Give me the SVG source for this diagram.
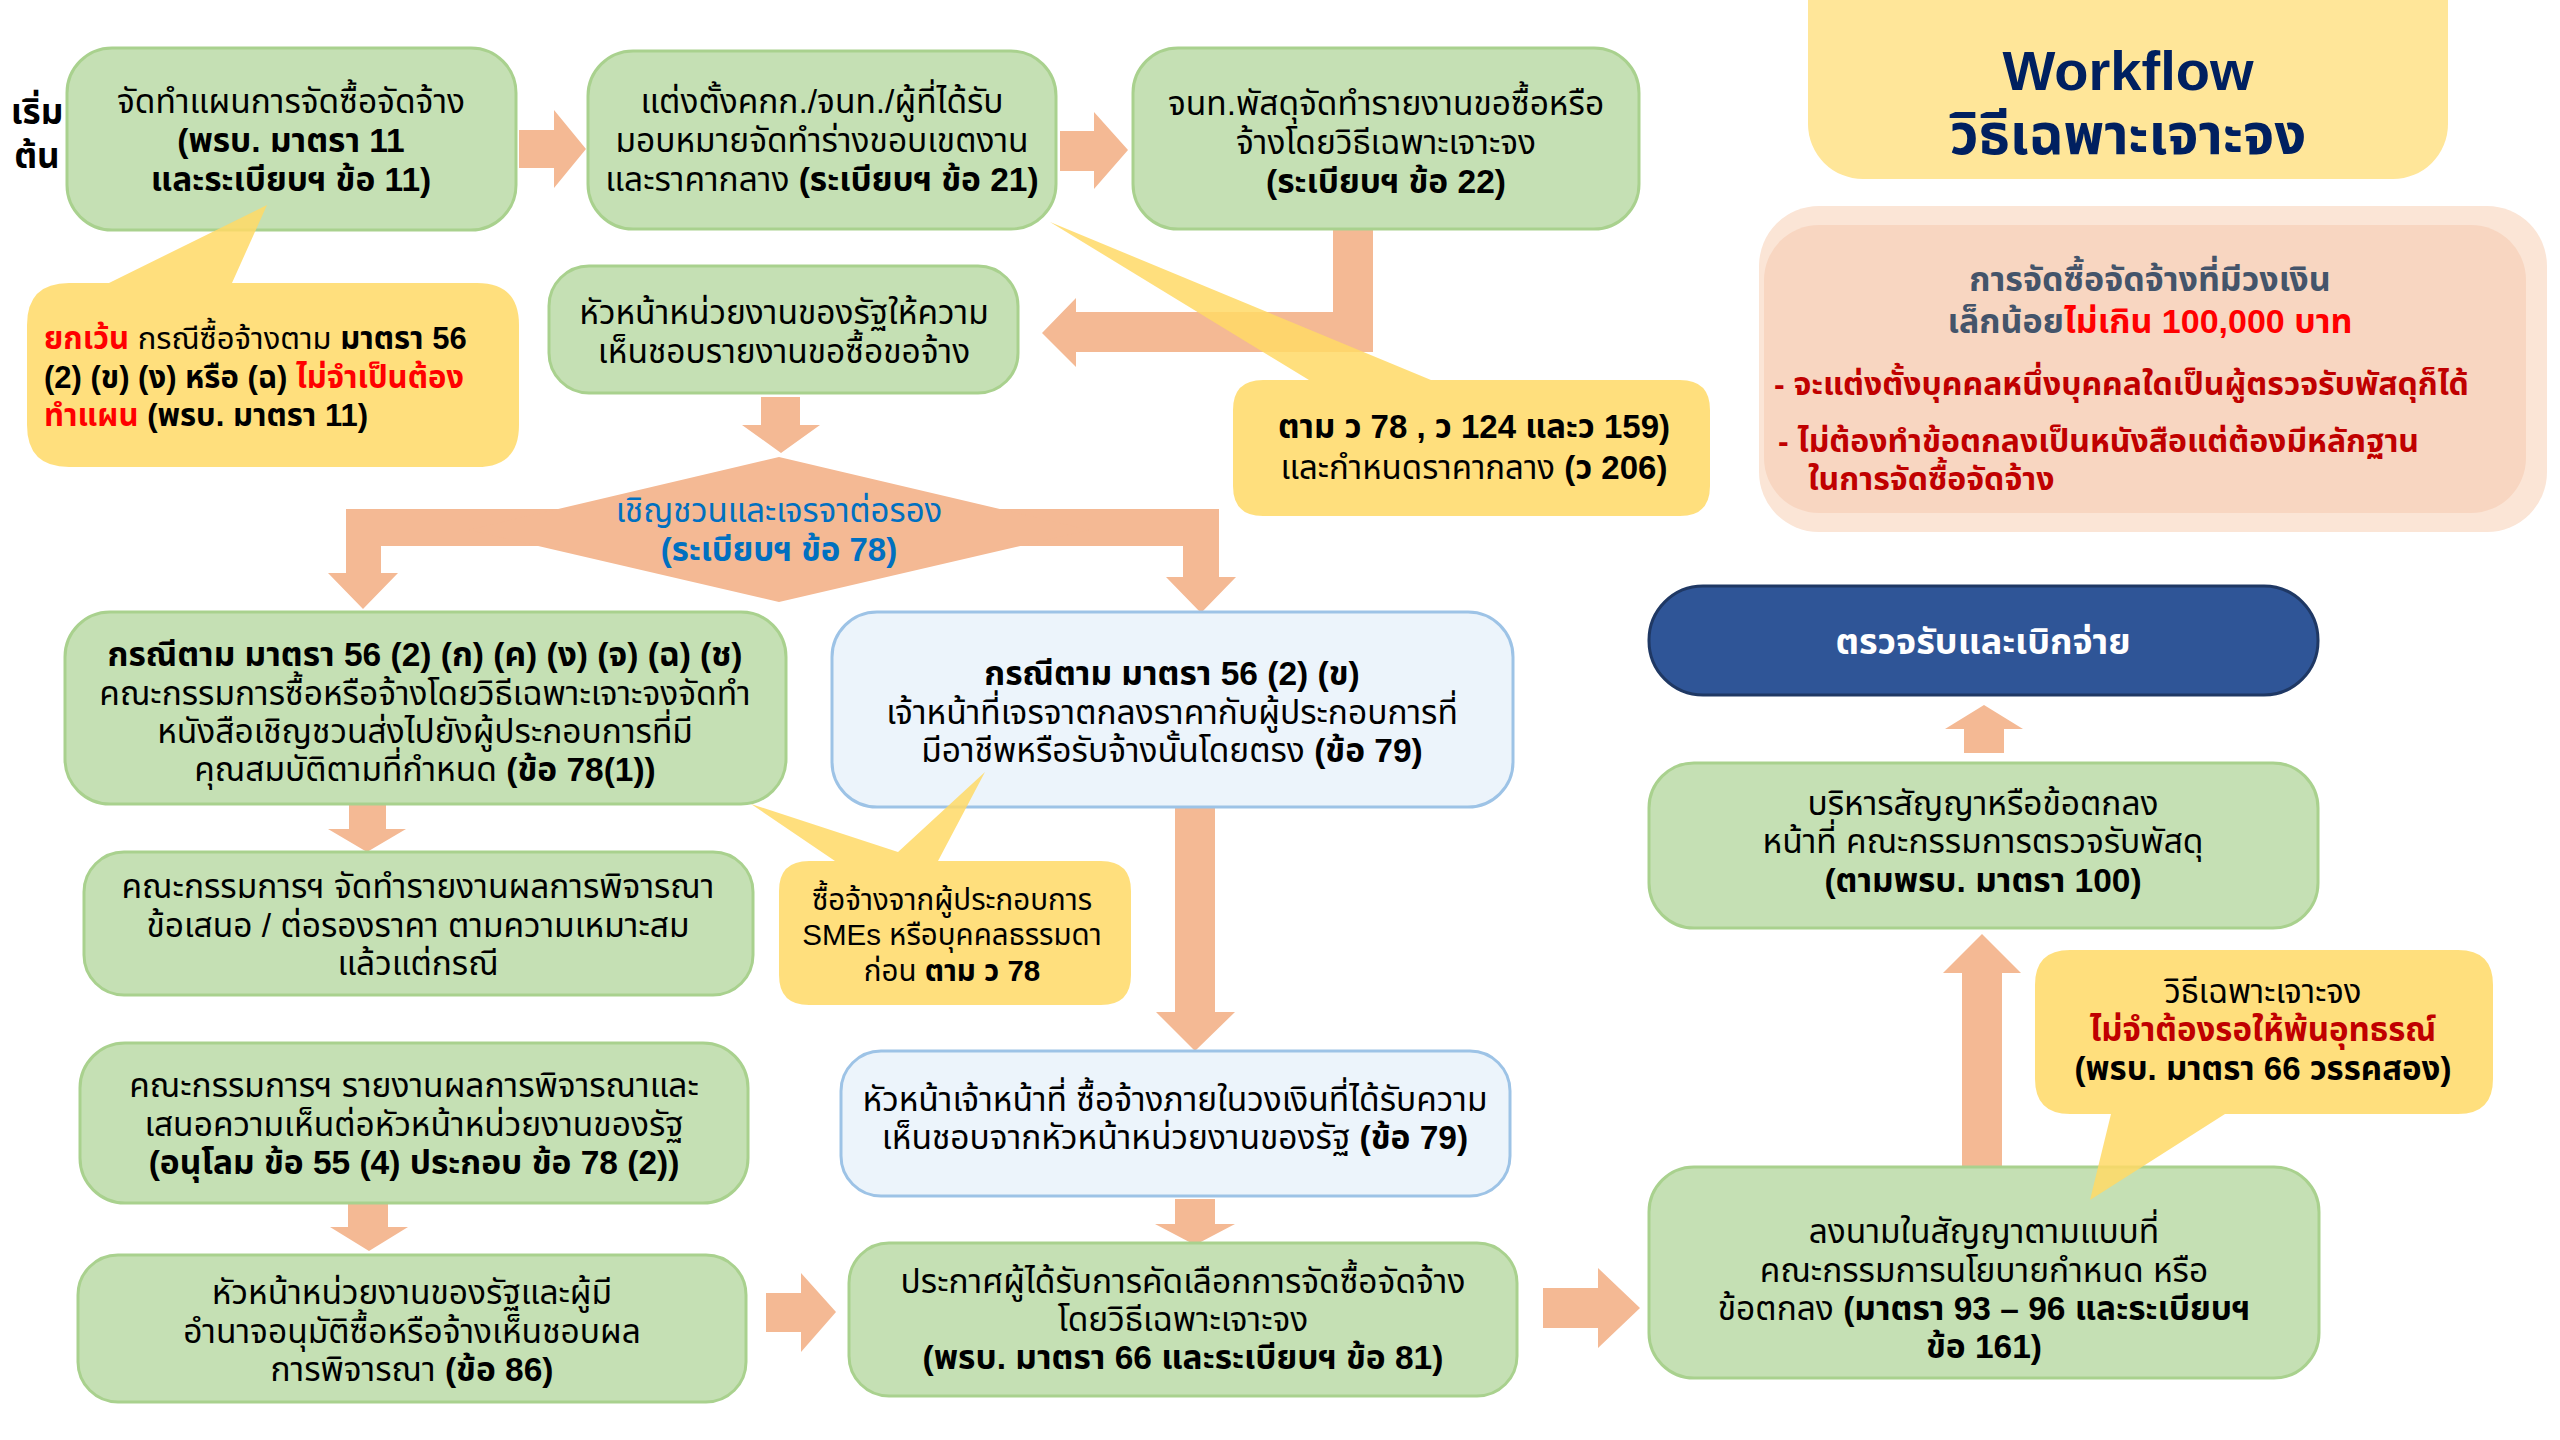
<svg xmlns="http://www.w3.org/2000/svg" width="2560" height="1440" viewBox="0 0 2560 1440">
<style>
text{font-family:'Liberation Sans','Noto Sans Thai','Noto Sans',sans-serif;font-size:33.5px;fill:#000;text-anchor:middle}
.l{text-anchor:start}
.bd{font-weight:bold}
.red{fill:#ff0000}
.dred{fill:#c00000}
.g{fill:#c5e0b4;stroke:#a9d18e;stroke-width:3}
.bl{fill:#ecf4fb;stroke:#9dc3e6;stroke-width:3}
.y{fill:#ffd966;fill-opacity:.85}
.a{fill:#f4b994}
.n31{font-size:31px}
.n32{font-size:32px}
.n33{font-size:33px}
</style>
<rect width="2560" height="1440" fill="#fff"/>
<g id="start-label">
<text x="37" y="124" class="bd" style="font-size:35px">เริ่ม</text>
<text x="37" y="168" class="bd" style="font-size:35px">ต้น</text>
</g>
<g id="connectors">
<polygon class="a" points="519,130 554,130 554,110 586,149 554,188 554,168 519,168"/>
<polygon class="a" points="1060,131 1094,131 1094,112 1128,150 1094,189 1094,171 1060,171"/>
<polygon class="a" points="1333,229 1373,229 1373,352 1076,352 1076,367 1042,333 1076,298 1076,312 1333,312"/>
<polygon class="a" points="761,397 800,397 800,425 820,425 781,453 742,425 761,425"/>
<polygon class="a" points="560,509 346,509 346,573 328,573 363,609 398,573 381,573 381,546 560,546"/>
<polygon class="a" points="998,509 1219,509 1219,577 1236,577 1201,613 1166,577 1183,577 1183,546 998,546"/>
<polygon class="a" points="349,804 386,804 386,829 406,829 367,852 328,829 349,829"/>
<polygon class="a" points="1175,807 1215,807 1215,1012 1235,1012 1195,1051 1156,1012 1175,1012"/>
<polygon class="a" points="348,1203 388,1203 388,1227 408,1227 369,1251 330,1227 348,1227"/>
<polygon class="a" points="766,1293 801,1293 801,1273 836,1312 801,1352 801,1332 766,1332"/>
<polygon class="a" points="1175,1199 1215,1199 1215,1224 1235,1224 1195,1245 1155,1224 1175,1224"/>
<polygon class="a" points="1543,1288 1598,1288 1598,1268 1640,1308 1598,1348 1598,1328 1543,1328"/>
<polygon class="a" points="1962,1170 2002,1170 2002,973 2021,973 1982,934 1943,973 1962,973"/>
<polygon class="a" points="1964,753 2004,753 2004,729 2023,729 1984,705 1945,729 1964,729"/>
</g>
<g id="box1">
<rect class="g" x="67" y="48" width="449" height="182" rx="45"/>
<text x="291" y="113">จัดทำแผนการจัดซื้อจัดจ้าง</text>
<text x="291" y="152" class="bd">(พรบ. มาตรา 11</text>
<text x="291" y="191" class="bd">และระเบียบฯ ข้อ 11)</text>
</g>
<g id="box2">
<rect class="g" x="588" y="51" width="468" height="178" rx="45"/>
<text x="822" y="113">แต่งตั้งคกก./จนท./ผู้ที่ได้รับ</text>
<text x="822" y="152">มอบหมายจัดทำร่างขอบเขตงาน</text>
<text x="822" y="191">และราคากลาง <tspan class="bd">(ระเบียบฯ ข้อ 21)</tspan></text>
</g>
<g id="box3">
<rect class="g" x="1133" y="48" width="506" height="181" rx="45"/>
<text x="1386" y="115">จนท.พัสดุจัดทำรายงานขอซื้อหรือ</text>
<text x="1386" y="154">จ้างโดยวิธีเฉพาะเจาะจง</text>
<text x="1386" y="193" class="bd">(ระเบียบฯ ข้อ 22)</text>
</g>
<g id="title">
<rect x="1808" y="-60" width="640" height="239" rx="55" fill="#ffe699"/>
<text x="2128" y="90" class="bd" style="font-size:56px;fill:#002060">Workflow</text>
<text x="2128" y="154" class="bd" style="font-size:56px;fill:#002060">วิธีเฉพาะเจาะจง</text>
</g>
<g id="note-small-value">
<rect x="1759" y="206" width="788" height="326" rx="60" fill="#fbe5d6"/>
<rect x="1764" y="225" width="762" height="288" rx="55" fill="#f8d6c1"/>
<text x="2150" y="291" class="bd" style="font-size:34px;fill:#44546a">การจัดซื้อจัดจ้างที่มีวงเงิน</text>
<text x="2150" y="333" class="bd" style="font-size:34px;fill:#44546a">เล็กน้อย<tspan class="red">ไม่เกิน 100,000 บาท</tspan></text>
<text x="1774" y="395" class="bd dred l n32">- จะแต่งตั้งบุคคลหนึ่งบุคคลใดเป็นผู้ตรวจรับพัสดุก็ได้</text>
<text x="1778" y="452" class="bd dred l n32">- ไม่ต้องทำข้อตกลงเป็นหนังสือแต่ต้องมีหลักฐาน</text>
<text x="1808" y="490" class="bd dred l n32">ในการจัดซื้อจัดจ้าง</text>
</g>
<g id="box4">
<rect class="g" x="549" y="266" width="469" height="127" rx="40"/>
<text x="784" y="324">หัวหน้าหน่วยงานของรัฐให้ความ</text>
<text x="784" y="363">เห็นชอบรายงานขอซื้อขอจ้าง</text>
</g>
<g id="decision">
<polygon class="a" points="779,457 1089,530 779,602 469,530"/>
<text x="779" y="522" class="n33" style="fill:#0070c0">เชิญชวนและเจรจาต่อรอง</text>
<text x="779" y="561" class="bd n33" style="fill:#0070c0">(ระเบียบฯ ข้อ 78)</text>
</g>
<g id="box5">
<rect class="g" x="65" y="612" width="721" height="192" rx="45"/>
<text x="425" y="666" class="bd">กรณีตาม มาตรา 56 (2) (ก) (ค) (ง) (จ) (ฉ) (ช)</text>
<text x="425" y="705">คณะกรรมการซื้อหรือจ้างโดยวิธีเฉพาะเจาะจงจัดทำ</text>
<text x="425" y="743">หนังสือเชิญชวนส่งไปยังผู้ประกอบการที่มี</text>
<text x="425" y="781">คุณสมบัติตามที่กำหนด <tspan class="bd">(ข้อ 78(1))</tspan></text>
</g>
<g id="box6">
<rect class="bl" x="832" y="612" width="681" height="195" rx="45"/>
<text x="1172" y="685" class="bd">กรณีตาม มาตรา 56 (2) (ข)</text>
<text x="1172" y="724">เจ้าหน้าที่เจรจาตกลงราคากับผู้ประกอบการที่</text>
<text x="1172" y="762">มีอาชีพหรือรับจ้างนั้นโดยตรง <tspan class="bd">(ข้อ 79)</tspan></text>
</g>
<g id="box7">
<rect class="g" x="84" y="852" width="669" height="143" rx="40"/>
<text x="418" y="898">คณะกรรมการฯ จัดทำรายงานผลการพิจารณา</text>
<text x="418" y="937">ข้อเสนอ / ต่อรองราคา ตามความเหมาะสม</text>
<text x="418" y="975">แล้วแต่กรณี</text>
</g>
<g id="box8">
<rect class="g" x="80" y="1043" width="668" height="160" rx="45"/>
<text x="414" y="1097">คณะกรรมการฯ รายงานผลการพิจารณาและ</text>
<text x="414" y="1136">เสนอความเห็นต่อหัวหน้าหน่วยงานของรัฐ</text>
<text x="414" y="1174" class="bd">(อนุโลม ข้อ 55 (4) ประกอบ ข้อ 78 (2))</text>
</g>
<g id="box9">
<rect class="g" x="78" y="1255" width="668" height="147" rx="40"/>
<text x="412" y="1304">หัวหน้าหน่วยงานของรัฐและผู้มี</text>
<text x="412" y="1343">อำนาจอนุมัติซื้อหรือจ้างเห็นชอบผล</text>
<text x="412" y="1381">การพิจารณา <tspan class="bd">(ข้อ 86)</tspan></text>
</g>
<g id="box10">
<rect class="bl" x="841" y="1051" width="669" height="145" rx="40"/>
<text x="1175" y="1111">หัวหน้าเจ้าหน้าที่ ซื้อจ้างภายในวงเงินที่ได้รับความ</text>
<text x="1175" y="1149">เห็นชอบจากหัวหน้าหน่วยงานของรัฐ <tspan class="bd">(ข้อ 79)</tspan></text>
</g>
<g id="box11">
<rect class="g" x="849" y="1243" width="668" height="153" rx="40"/>
<text x="1183" y="1293">ประกาศผู้ได้รับการคัดเลือกการจัดซื้อจัดจ้าง</text>
<text x="1183" y="1331">โดยวิธีเฉพาะเจาะจง</text>
<text x="1183" y="1369" class="bd">(พรบ. มาตรา 66 และระเบียบฯ ข้อ 81)</text>
</g>
<g id="box12">
<rect class="g" x="1649" y="1167" width="670" height="211" rx="45"/>
<text x="1984" y="1243">ลงนามในสัญญาตามแบบที่</text>
<text x="1984" y="1282">คณะกรรมการนโยบายกำหนด หรือ</text>
<text x="1984" y="1320">ข้อตกลง <tspan class="bd">(มาตรา 93 – 96 และระเบียบฯ</tspan></text>
<text x="1984" y="1358" class="bd">ข้อ 161)</text>
</g>
<g id="box13">
<rect class="g" x="1649" y="763" width="669" height="165" rx="45"/>
<text x="1983" y="815">บริหารสัญญาหรือข้อตกลง</text>
<text x="1983" y="853">หน้าที่ คณะกรรมการตรวจรับพัสดุ</text>
<text x="1983" y="892" class="bd">(ตามพรบ. มาตรา 100)</text>
</g>
<g id="box14">
<rect x="1649" y="586" width="669" height="109" rx="54" fill="#2f5597" stroke="#1f3864" stroke-width="3"/>
<text x="1983" y="654" class="bd" style="font-size:36px;fill:#fff">ตรวจรับและเบิกจ่าย</text>
</g>
<g id="note-exception">
<path class="y" d="M267,205 L232,283 L477,283 Q519,283 519,325 L519,425 Q519,467 477,467 L69,467 Q27,467 27,425 L27,325 Q27,283 69,283 L109,283 Z"/>
<text x="44" y="349" class="l n31"><tspan class="bd red">ยกเว้น</tspan> กรณีซื้อจ้างตาม <tspan class="bd">มาตรา 56</tspan></text>
<text x="44" y="388" class="l bd n31">(2) (ข) (ง) หรือ (ฉ) <tspan class="red">ไม่จำเป็นต้อง</tspan></text>
<text x="44" y="426" class="l bd n31"><tspan class="red">ทำแผน</tspan> (พรบ. มาตรา 11)</text>
</g>
<g id="note-w78">
<path class="y" d="M1050,222 L1431,380 L1680,380 Q1710,380 1710,410 L1710,486 Q1710,516 1680,516 L1263,516 Q1233,516 1233,486 L1233,410 Q1233,380 1263,380 L1309,380 Z"/>
<text x="1474" y="438" class="bd n33">ตาม ว 78 , ว 124 และว 159)</text>
<text x="1474" y="479" class="n33">และกำหนดราคากลาง <tspan class="bd">(ว 206)</tspan></text>
</g>
<g id="note-sme">
<path class="y" d="M751,804 L898,852 L985,772 L938,861 L1101,861 Q1131,861 1131,891 L1131,975 Q1131,1005 1101,1005 L809,1005 Q779,1005 779,975 L779,891 Q779,861 809,861 L835,861 Z"/>
<text x="952" y="910" style="font-size:29.5px">ซื้อจ้างจากผู้ประกอบการ</text>
<text x="952" y="945" style="font-size:29.5px">SMEs หรือบุคคลธรรมดา</text>
<text x="952" y="981" style="font-size:29.5px">ก่อน <tspan class="bd">ตาม ว 78</tspan></text>
</g>
<g id="note-appeal">
<path class="y" d="M2090,1200 L2225,1114 L2458,1114 Q2493,1114 2493,1079 L2493,985 Q2493,950 2458,950 L2070,950 Q2035,950 2035,985 L2035,1079 Q2035,1114 2070,1114 L2111,1114 Z"/>
<text x="2263" y="1003" class="n33">วิธีเฉพาะเจาะจง</text>
<text x="2263" y="1041" class="bd dred n33">ไม่จำต้องรอให้พ้นอุทธรณ์</text>
<text x="2263" y="1080" class="bd n33">(พรบ. มาตรา 66 วรรคสอง)</text>
</g>
</svg>
